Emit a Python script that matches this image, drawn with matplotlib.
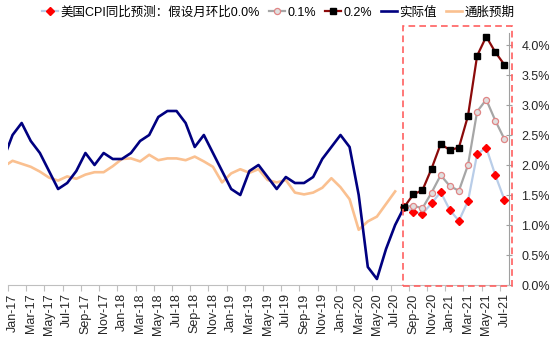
import numpy as np
import pandas as pd
import matplotlib
matplotlib.use('Agg')
import matplotlib.pyplot as plt
from matplotlib.patches import Rectangle
from matplotlib.ticker import FuncFormatter
import matplotlib.transforms as mtransforms

plt.rcParams['font.family'] = ['Liberation Sans', 'Noto Sans CJK SC']
plt.rcParams['font.size'] = 9

# months Dec-16 .. Jul-21, index 0 = Jan-17
months = pd.date_range('2016-12-01', '2021-07-01', freq='MS')
tick_labels = [m.strftime('%b-%y') for m in months[1::2]]

# actual US CPI yoy, Dec-16 .. Aug-20
actual = [2.1,
          2.5, 2.7, 2.4, 2.2, 1.9, 1.6, 1.7, 1.9, 2.2, 2.0, 2.2, 2.1,
          2.1, 2.2, 2.4, 2.5, 2.8, 2.9, 2.9, 2.7, 2.3, 2.5, 2.2, 1.9,
          1.6, 1.5, 1.9, 2.0, 1.8, 1.6, 1.8, 1.7, 1.7, 1.8, 2.1, 2.3,
          2.5, 2.3, 1.5, 0.3, 0.1, 0.6, 1.0, 1.3]
# inflation expectations, Dec-16 .. Jul-20
expect = [1.97,
          2.07, 2.02, 1.97, 1.89, 1.79, 1.74, 1.81, 1.77, 1.84, 1.88, 1.88, 1.98,
          2.10, 2.11, 2.06, 2.17, 2.08, 2.11, 2.11, 2.08, 2.14, 2.06, 1.97, 1.71,
          1.86, 1.93, 1.87, 1.93, 1.75, 1.71, 1.75, 1.54, 1.51, 1.54, 1.62, 1.78,
          1.63, 1.43, 0.92, 1.06, 1.14, 1.35, 1.56]
# forecasts, Aug-20 .. Jul-21
fc_00 = [1.3, 1.22, 1.19, 1.36, 1.55, 1.25, 1.07, 1.40, 2.18, 2.29, 1.83, 1.42]
fc_01 = [1.3, 1.32, 1.28, 1.54, 1.83, 1.65, 1.57, 2.00, 2.89, 3.09, 2.74, 2.43]
fc_02 = [1.3, 1.51, 1.58, 1.94, 2.35, 2.25, 2.29, 2.82, 3.82, 4.14, 3.88, 3.67]

x_act = np.arange(len(actual)) - 1
x_exp = np.arange(len(expect)) - 1
x_fc = np.arange(len(fc_00)) + 43

fig = plt.figure(figsize=(5.54, 3.40), dpi=100)
ax = fig.add_axes([8/554, 55/340, 501/554, 252/340])

l_act, = ax.plot(x_act, actual, color='#000080', lw=1.9, zorder=3)
l_exp, = ax.plot(x_exp, expect, color='#fac090', lw=1.9, zorder=2)
l0, = ax.plot(x_fc, fc_00, color='#b9cde8', lw=1.6, marker='D', ms=3.8,
              mfc='#ff0000', mec='#ff0000', zorder=4)
l1, = ax.plot(x_fc, fc_01, color='#a6a6a6', lw=1.6, marker='o', ms=4.4,
              mfc='#e0e0e0', mec='#e08585', mew=0.9, zorder=5)
l2, = ax.plot(x_fc, fc_02, color='#8b0a0a', lw=1.6, marker='s', ms=4.4,
              mfc='black', mec='black', zorder=6)

ax.set_xlim(-0.5, 54.5)
ax.set_ylim(0, 4.2)

ax.set_xticks(np.arange(-0.5, 54, 2))
ax.set_xticklabels([])
ax.set_xticks(np.arange(0, 55, 2), minor=True)
ax.set_xticklabels(tick_labels, minor=True, rotation=90, color='#262626')
ax.tick_params(axis='x', which='major', direction='out', length=4, color='#bfbfbf')
ax.tick_params(axis='x', which='minor', length=0, pad=6)

ax.yaxis.tick_right()
ax.set_yticks(np.arange(0, 4.01, 0.5))
ax.yaxis.set_major_formatter(FuncFormatter(lambda v, p: '%.1f%%' % v))
ax.tick_params(axis='y', direction='inout', length=4, color='#a0a0a0',
               labelcolor='#262626', pad=7)

for s in ['left', 'top']:
    ax.spines[s].set_visible(False)
ax.spines['right'].set_color('#a0a0a0')
ax.spines['bottom'].set_color('#bfbfbf')

# dashed highlight box around forecast period
trans = mtransforms.blended_transform_factory(ax.transData, ax.transAxes)
box = Rectangle((42.9, -0.004), 11.95, 1.032, transform=trans, fill=False,
                edgecolor='#ff6060', lw=1.2, linestyle=(0, (4, 2.5)),
                clip_on=False, zorder=7)
ax.add_patch(box)

fig.legend([l0, l1, l2, l_act, l_exp],
           ['美国CPI同比预测：假设月环比0.0%', '0.1%', '0.2%', '实际值', '通胀预期'],
           loc='center', bbox_to_anchor=(0.502, 0.963), ncol=5, frameon=False,
           handlelength=1.3, handletextpad=0.2, columnspacing=0.7,
           numpoints=1, fontsize=9)

fig.savefig('out.png', dpi=100)
